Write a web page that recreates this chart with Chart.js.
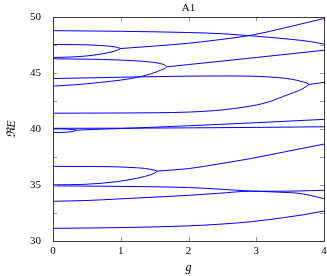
<!DOCTYPE html>
<html>
<head>
<meta charset="utf-8">
<script src="https://cdn.jsdelivr.net/npm/chart.js@4.4.1/dist/chart.umd.min.js"></script>
<style>
  body { margin: 0; background: #fff; }
  canvas { display: block; }
</style>
</head>
<body>
<canvas id="grafico" width="327" height="276"></canvas>
<script>
// values, one pair of arrays per branch
const xTicks = [0, 1, 2, 3, 4];
const yTicks = [30, 35, 40, 45, 50];

const gTop = [0, 1, 2, 2.5, 2.93, 3.2, 3.5, 3.8, 4];
const eTop = [48.8, 48.74, 48.63, 48.52, 48.33, 48.2, 48.03, 47.82, 47.6];

const gP1Up = [0, 0.3, 0.5, 0.7, 0.85, 0.95, 1.0];
const eP1Up = [47.56, 47.55, 47.53, 47.47, 47.4, 47.3, 47.2];
const gP1Lo = [0, 0.3, 0.5, 0.7, 0.85, 0.95, 1.0];
const eP1Lo = [46.4, 46.45, 46.54, 46.7, 46.88, 47.05, 47.2];
const gP1 = [1.0, 1.5, 2.0, 2.44, 2.93, 3.42, 4.0];
const eP1 = [47.2, 47.42, 47.67, 47.98, 48.39, 49.05, 49.88];

const gP2Up = [0, 0.5, 1.0, 1.3, 1.5, 1.6, 1.65, 1.678];
const eP2Up = [46.28, 46.25, 46.17, 46.07, 45.95, 45.83, 45.73, 45.56];
const gP2Lo = [0, 0.3, 0.69, 1.0, 1.28, 1.45, 1.53, 1.6, 1.65, 1.678];
const eP2Lo = [43.84, 43.95, 44.17, 44.38, 44.67, 44.95, 45.12, 45.3, 45.42, 45.56];
const gP2 = [1.678, 1.8, 2.0, 2.5, 3.0, 3.5, 4.0];
const eP2 = [45.56, 45.64, 45.77, 46.08, 46.4, 46.72, 47.05];

const gP3Up = [0, 0.7, 1.3, 2.0, 2.5, 2.9, 3.2, 3.45, 3.6, 3.69, 3.75, 3.78];
const eP3Up = [44.52, 44.6, 44.67, 44.73, 44.75, 44.73, 44.66, 44.52, 44.36, 44.22, 44.1, 43.99];
const gP3Lo = [0, 1.0, 1.5, 2.0, 2.4, 2.7, 3.0, 3.2, 3.4, 3.55, 3.69, 3.75, 3.78];
const eP3Lo = [41.42, 41.44, 41.46, 41.52, 41.66, 41.86, 42.15, 42.46, 42.92, 43.26, 43.63, 43.85, 43.99];
const gP3 = [3.78, 3.9, 4.0];
const eP3 = [43.99, 44.09, 44.17];

const gFlat40 = [0, 1, 2, 3, 4];
const eFlat40 = [40.07, 40.08, 40.11, 40.15, 40.21];
const gP4Up = [0, 0.1, 0.2, 0.3, 0.35];
const eP4Up = [40.02, 40.02, 40.0, 39.96, 39.91];
const gP4Lo = [0, 0.1, 0.2, 0.3, 0.35];
const eP4Lo = [39.70, 39.70, 39.72, 39.8, 39.91];
const gP4 = [0.35, 0.6, 1.0, 1.5, 2.0, 2.5, 3.0, 3.5, 4.0];
const eP4 = [39.91, 39.97, 40.05, 40.17, 40.3, 40.43, 40.57, 40.72, 40.87];

const gP5Up = [0, 0.5, 0.94, 1.23, 1.35, 1.43, 1.5, 1.54];
const eP5Up = [36.67, 36.66, 36.63, 36.55, 36.49, 36.41, 36.33, 36.25];
const gP5Lo = [0, 0.45, 0.94, 1.23, 1.35, 1.43, 1.5, 1.54];
const eP5Lo = [35.02, 35.06, 35.3, 35.6, 35.76, 35.9, 36.07, 36.25];
const gP5 = [1.54, 2.0, 2.44, 2.93, 3.42, 4.0];
const eP5 = [36.25, 36.47, 36.88, 37.38, 37.97, 38.66];

const gA = [0, 1, 2.0, 2.44, 2.93, 3.2, 3.42, 3.6, 3.8, 4.0];
const eA = [34.93, 34.88, 34.78, 34.64, 34.46, 34.4, 34.34, 34.28, 34.08, 33.77];
const gB = [0, 0.5, 0.94, 1.43, 2.0, 2.44, 2.93, 3.42, 3.8, 4.0];
const eB = [33.55, 33.62, 33.75, 33.9, 34.08, 34.26, 34.45, 34.45, 34.5, 34.53];

const gBottom = [0, 1, 1.95, 2.44, 2.93, 3.42, 3.7, 4.0];
const eBottom = [31.13, 31.2, 31.34, 31.49, 31.73, 32.1, 32.35, 32.68];

const ramas = [
  [gTop, eTop],
  [gP1Up, eP1Up], [gP1Lo, eP1Lo], [gP1, eP1],
  [gP2Up, eP2Up], [gP2Lo, eP2Lo], [gP2, eP2],
  [gP3Up, eP3Up], [gP3Lo, eP3Lo], [gP3, eP3],
  [gFlat40, eFlat40],
  [gP4Up, eP4Up], [gP4Lo, eP4Lo], [gP4, eP4],
  [gP5Up, eP5Up], [gP5Lo, eP5Lo], [gP5, eP5],
  [gA, eA], [gB, eB],
  [gBottom, eBottom]
];

const datasets = ramas.map(([g, e]) => ({
  data: g.map((v, i) => ({ x: v, y: e[i] })),
  showLine: true,
  borderColor: '#0000ff',
  borderWidth: 1,
  pointRadius: 0,
  cubicInterpolationMode: 'monotone',
  fill: false
}));

const serif = "'Liberation Serif', 'DejaVu Serif', serif";

// pgfplots style frame with inward ticks
const marco = {
  id: 'marco',
  afterDraw(chart) {
    const { ctx, chartArea: a, scales } = chart;
    ctx.save();
    ctx.strokeStyle = 'rgb(150,150,150)';
    ctx.lineWidth = 1;
    ctx.beginPath();
    scales.x.ticks.forEach(t => {
      const px = Math.round(scales.x.getPixelForValue(t.value)) + 0.5;
      ctx.moveTo(px, a.bottom); ctx.lineTo(px, a.bottom - 4);
      ctx.moveTo(px, a.top); ctx.lineTo(px, a.top + 4);
    });
    scales.y.ticks.forEach(t => {
      const py = Math.round(scales.y.getPixelForValue(t.value)) + 0.5;
      ctx.moveTo(a.left, py); ctx.lineTo(a.left + 4, py);
      ctx.moveTo(a.right, py); ctx.lineTo(a.right - 4, py);
    });
    ctx.stroke();
    ctx.strokeStyle = 'rgb(60,60,60)';
    ctx.strokeRect(Math.round(a.left) + 0.5, Math.round(a.top) + 0.5,
      Math.round(a.right - a.left), Math.round(a.bottom - a.top));
    ctx.restore();
  }
};

new Chart(document.getElementById('grafico'), {
  type: 'scatter',
  data: { datasets },
  plugins: [marco],
  options: {
    responsive: false,
    animation: false,
    layout: { padding: { left: 0, right: 3, top: 0, bottom: 0 } },
    plugins: {
      legend: { display: false },
      tooltip: { enabled: false },
      title: {
        display: true,
        text: 'A1',
        fullSize: false,
        color: '#000',
        font: { family: serif, size: 11, weight: 'normal' },
        padding: { top: 2, bottom: 2 }
      }
    },
    scales: {
      x: {
        type: 'linear',
        min: 0,
        max: 4,
        afterFit: s => { s.height = 35; },
        afterBuildTicks: s => { s.ticks = xTicks.map(v => ({ value: v })); },
        grid: { display: false },
        border: { display: false },
        ticks: { color: '#000', padding: -4, font: { family: serif, size: 11 } },
        title: {
          display: true,
          text: 'g',
          color: '#000',
          font: { family: serif, size: 12, style: 'italic' },
          padding: { top: 0, bottom: 1 }
        }
      },
      y: {
        min: 30,
        max: 50,
        afterFit: s => { s.width = 53; },
        ticks: {
          stepSize: 2.5,
          autoSkip: false,
          color: '#000',
          padding: 4,
          font: { family: serif, size: 11 },
          callback: v => yTicks.includes(v) ? v : ''
        },
        grid: { display: false },
        border: { display: false },
        title: {
          display: true,
          text: 'ℜE',
          color: '#000',
          font: { family: serif, size: 12, style: 'italic' },
          padding: { top: 5, bottom: 0 }
        }
      }
    }
  }
});
</script>
</body>
</html>
